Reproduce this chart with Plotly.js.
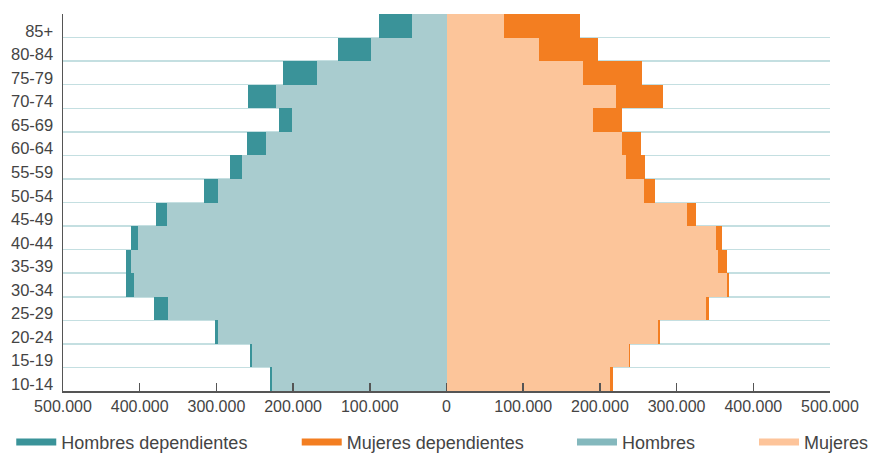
<!DOCTYPE html>
<html>
<head>
<meta charset="utf-8">
<script src="https://cdn.plot.ly/plotly-3.0.1.min.js"></script>
<style>
  html, body { margin: 0; padding: 0; background: #fff; }
  #chart { width: 873px; height: 456px; }
</style>
</head>
<body>
<div id="chart"></div>
<script>
// Age groups, bottom to top
const ageGroups = ["10-14","15-19","20-24","25-29","30-34","35-39","40-44","45-49",
                   "50-54","55-59","60-64","65-69","70-74","75-79","80-84","85+"];
// Men (non-dependent) and dependent men
const hombres    = [226900, 253300, 297300, 362900, 406800, 411100, 402400, 364200,
                    298200, 266000, 234700, 200800, 222500, 168200, 98200, 44700];
const hombresDep = [2600, 2700, 4300, 18200, 11300, 7000, 8700, 14800,
                    18200, 16000, 25200, 18200, 36100, 45600, 43000, 43600];
// Women (non-dependent) and dependent women
const mujeres    = [213800, 238200, 275500, 338100, 365100, 354600, 351100, 314200,
                    258100, 233400, 228200, 191200, 221200, 177700, 120000, 75600];
const mujeresDep = [3500, 500, 2600, 4400, 3400, 10500, 7900, 11300,
                    13500, 25200, 25600, 37000, 60800, 77400, 77300, 99100];
// X axis ticks
const xTickVals = [-500000,-400000,-300000,-200000,-100000,0,100000,200000,300000,400000,500000];
const xTickText = ["500.000","400.000","300.000","200.000","100.000","0",
                   "100.000","200.000","300.000","400.000","500.000"];

const C = {
  hDep: "#3a9399", mDep: "#f37e21", h: "#a9cccf", m: "#fcc59a",
  hLeg: "#84b8bd", mLeg: "#fdc49a"
};

const neg = a => a.map(v => -v);

const traces = [
  {type:"bar", orientation:"h", y:ageGroups, x:neg(hombres), marker:{color:C.h, line:{width:0}}, showlegend:false, name:"Hombres"},
  {type:"bar", orientation:"h", y:ageGroups, x:neg(hombresDep), marker:{color:C.hDep, line:{width:0}}, showlegend:false, name:"Hombres dependientes"},
  {type:"bar", orientation:"h", y:ageGroups, x:mujeres, marker:{color:C.m, line:{width:0}}, showlegend:false, name:"Mujeres"},
  {type:"bar", orientation:"h", y:ageGroups, x:mujeresDep, marker:{color:C.mDep, line:{width:0}}, showlegend:false, name:"Mujeres dependientes"},
  // legend entries
  {type:"scatter", mode:"lines", x:[null], y:[null], line:{color:C.hDep, width:7}, name:"Hombres dependientes", legend:"legend"},
  {type:"scatter", mode:"lines", x:[null], y:[null], line:{color:C.mDep, width:7}, name:"Mujeres dependientes", legend:"legend2"},
  {type:"scatter", mode:"lines", x:[null], y:[null], line:{color:C.hLeg, width:7}, name:"Hombres", legend:"legend3"},
  {type:"scatter", mode:"lines", x:[null], y:[null], line:{color:C.mLeg, width:7}, name:"Mujeres", legend:"legend4"}
];

function leg(x) {
  return {
    orientation: "h",
    xref: "container", yref: "container",
    x: x, xanchor: "left",
    y: 0.03, yanchor: "middle",
    itemwidth: 40,
    font: {size: 18, color: "#444"},
    bgcolor: "rgba(0,0,0,0)"
  };
}

const layout = {
  width: 873, height: 456,
  margin: {l:63, r:43, t:14, b:65, autoexpand: false},
  paper_bgcolor: "#fff", plot_bgcolor: "#fff",
  font: {family: "Liberation Sans, Arial, sans-serif", color: "#444", size: 15},
  barmode: "relative",
  bargap: 0,
  xaxis: {
    range: [-500000, 500000],
    tickvals: xTickVals, ticktext: xTickText,
    showgrid: false, zeroline: false,
    showline: true, linecolor: "#555", linewidth: 1.5,
    ticks: "inside", ticklen: 8, tickcolor: "#555", tickwidth: 1.5,
    tickfont: {size: 16, color: "#444"},
    fixedrange: true
  },
  yaxis: {
    type: "category",
    categoryorder: "array", categoryarray: ageGroups,
    tickson: "boundaries",
    showgrid: true, gridcolor: "#c4dfe1", gridwidth: 1.5,
    zeroline: false,
    showline: true, linecolor: "#555", linewidth: 1.5,
    ticks: "", ticklabelstandoff: 5,
    ticklabelshift: 5,
    tickfont: {size: 16.5, color: "#444"},
    fixedrange: true
  },
  legend: leg(0.0129),
  legend2: leg(0.3399),
  legend3: leg(0.6552),
  legend4: leg(0.8637),
  showlegend: true
};

Plotly.newPlot("chart", traces, layout, {displayModeBar: false, staticPlot: true});
</script>
</body>
</html>
